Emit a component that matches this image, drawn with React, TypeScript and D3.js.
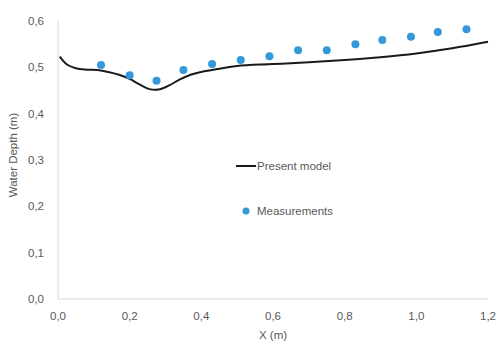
import React from "react";
import * as d3 from "d3";

const modelX = [0.005, 0.025, 0.05, 0.08, 0.11, 0.14, 0.17, 0.2, 0.23, 0.255, 0.28, 0.31, 0.34, 0.37, 0.4, 0.45, 0.5, 0.6, 0.7, 0.8, 0.9, 1.0, 1.1, 1.2];
const modelY = [0.523, 0.506, 0.498, 0.495, 0.494, 0.49, 0.484, 0.475, 0.462, 0.453, 0.452, 0.461, 0.474, 0.484, 0.49, 0.497, 0.503, 0.507, 0.511, 0.516, 0.522, 0.53, 0.541, 0.555];
const measX = [0.12, 0.2, 0.275, 0.35, 0.43, 0.51, 0.59, 0.67, 0.75, 0.83, 0.905, 0.985, 1.06, 1.14];
const measY = [0.505, 0.483, 0.471, 0.494, 0.507, 0.516, 0.524, 0.537, 0.537, 0.55, 0.559, 0.566, 0.576, 0.582];
const xTicks = [0, 0.2, 0.4, 0.6, 0.8, 1.0, 1.2];
const yTicks = [0, 0.1, 0.2, 0.3, 0.4, 0.5, 0.6];
const seriesNames = ["Present model", "Measurements"];

const W = 501;
const H = 345;
const M = { left: 58, right: 13, top: 21, bottom: 46 };
const fmt = (v: number) => v.toFixed(1).replace(".", ",");

export default function App() {
  const x = d3.scaleLinear().domain([0, 1.2]).range([M.left, W - M.right]);
  const y = d3.scaleLinear().domain([0, 0.6]).range([H - M.bottom, M.top]);
  const line = d3
    .line<number>()
    .x((_, i) => x(modelX[i]))
    .y((d) => y(d))
    .curve(d3.curveCatmullRom.alpha(0.5));
  const font = "Liberation Sans, Arial, sans-serif";
  const grey = "#595959";
  return (
    <svg width={W} height={H} style={{ position: "absolute", left: 0, top: 0, background: "#fff" }} fontFamily={font}>
      <line x1={x(0)} x2={x(1.2)} y1={y(0)} y2={y(0)} stroke="#d9d9d9" strokeWidth={1} />
      <line x1={x(0)} x2={x(0)} y1={y(0)} y2={y(0.6)} stroke="#d9d9d9" strokeWidth={1} />
      {yTicks.map((t) => (
        <text key={"y" + t} x={x(0) - 14} y={y(t)} dy="0.35em" textAnchor="end" fontSize={11.5} fill={grey}>
          {fmt(t)}
        </text>
      ))}
      {xTicks.map((t) => (
        <text key={"x" + t} x={x(t)} y={y(0) + 21} textAnchor="middle" fontSize={11.5} fill={grey}>
          {fmt(t)}
        </text>
      ))}
      <text x={(x(0) + x(1.2)) / 2} y={y(0) + 40} textAnchor="middle" fontSize={11.5} fill={grey}>
        X (m)
      </text>
      <text transform={`translate(17,${(y(0) + y(0.6)) / 2 - 5}) rotate(-90)`} textAnchor="middle" fontSize={11.5} fill={grey}>
        Water Depth (m)
      </text>
      <path d={line(modelY) || ""} fill="none" stroke="#1a1a1a" strokeWidth={2} />
      {measY.map((v, i) => (
        <circle key={"m" + i} cx={x(measX[i])} cy={y(v)} r={4} fill="#3498db" />
      ))}
      <line x1={236} x2={256} y1={166} y2={166} stroke="#1a1a1a" strokeWidth={2} />
      <text x={257} y={166} dy="0.35em" fontSize={11.5} fill={grey}>
        {seriesNames[0]}
      </text>
      <circle cx={246} cy={211} r={3.5} fill="#3498db" />
      <text x={257} y={211} dy="0.35em" fontSize={11.5} fill={grey}>
        {seriesNames[1]}
      </text>
    </svg>
  );
}
